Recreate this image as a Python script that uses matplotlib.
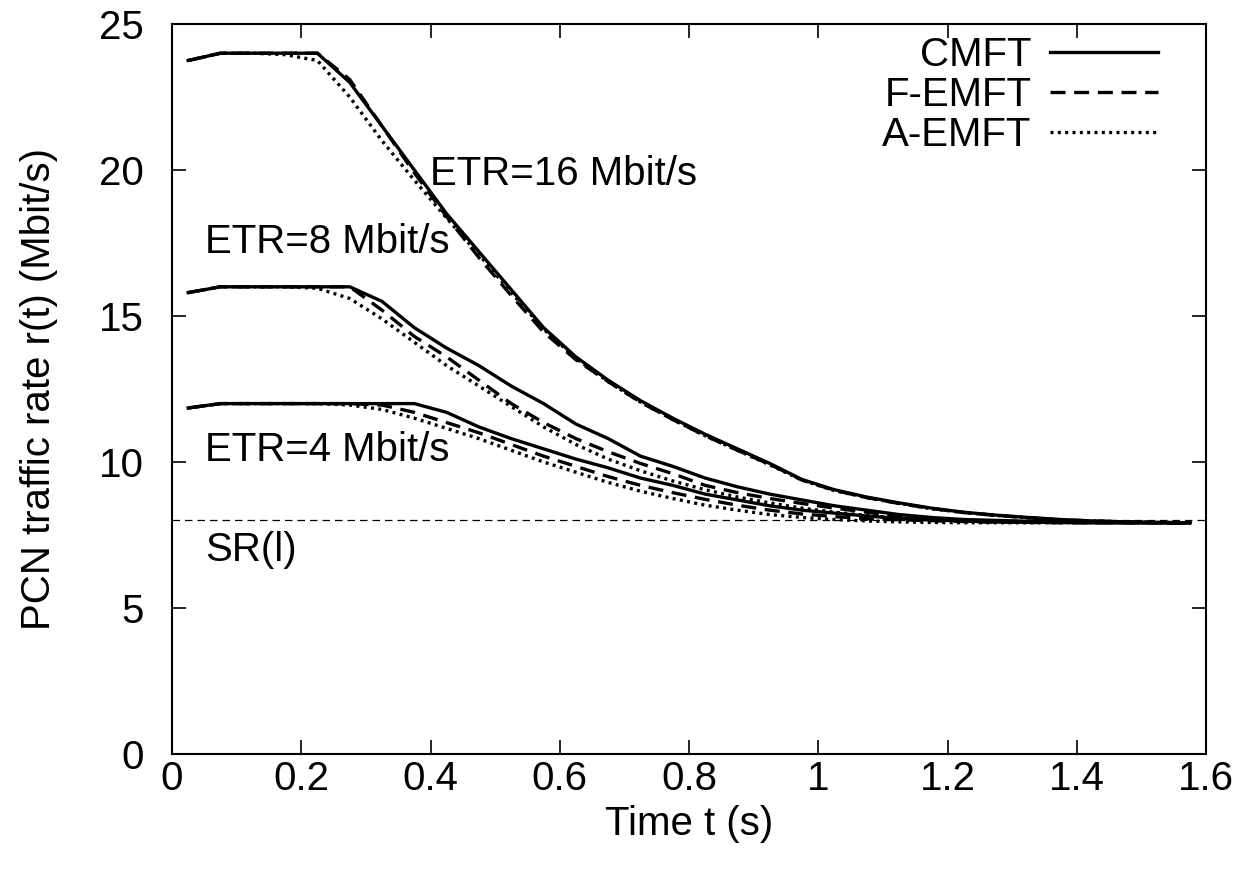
import matplotlib
matplotlib.use("Agg")
import matplotlib.pyplot as plt

plt.rcParams['font.family'] = ['Liberation Sans', 'DejaVu Sans']

t = [0.025, 0.075, 0.125, 0.175, 0.225, 0.275, 0.325, 0.375, 0.425, 0.475,
     0.525, 0.575, 0.625, 0.675, 0.725, 0.775, 0.825, 0.875, 0.925, 0.975,
     1.025, 1.075, 1.125, 1.175, 1.225, 1.275, 1.325, 1.375, 1.425, 1.475,
     1.525, 1.575]

# ETR = 16 Mbit/s
cmft_16 = [23.75, 24.0, 24.0, 24.0, 24.0, 23.0, 21.5, 20.0, 18.5, 17.2,
           15.9, 14.6, 13.6, 12.8, 12.1, 11.5, 10.95, 10.45, 9.95, 9.4,
           9.05, 8.8, 8.6, 8.42, 8.28, 8.18, 8.1, 8.03, 7.98, 7.95,
           7.93, 7.92]
femft_16 = [23.75, 24.0, 24.0, 24.0, 24.0, 23.1, 21.5, 19.9, 18.4, 17.0,
            15.7, 14.45, 13.5, 12.75, 12.05, 11.45, 10.9, 10.4, 9.92, 9.38,
            9.03, 8.78, 8.58, 8.41, 8.27, 8.17, 8.09, 8.02, 7.98, 7.95,
            7.93, 7.92]
aemft_16 = [23.75, 24.0, 24.0, 23.95, 23.75, 22.5, 21.0, 19.65, 18.35, 17.1,
            15.8, 14.55, 13.55, 12.75, 12.05, 11.45, 10.9, 10.4, 9.9, 9.38,
            9.02, 8.78, 8.58, 8.4, 8.27, 8.17, 8.09, 8.02, 7.98, 7.95,
            7.93, 7.92]

# ETR = 8 Mbit/s
cmft_8 = [15.8, 16.0, 16.0, 16.0, 16.0, 16.0, 15.5, 14.6, 13.9, 13.3,
          12.6, 12.0, 11.3, 10.8, 10.2, 9.85, 9.45, 9.15, 8.9, 8.7,
          8.5, 8.35, 8.2, 8.1, 8.03, 8.0, 7.97, 7.95, 7.94, 7.93,
          7.92, 7.92]
femft_8 = [15.8, 16.0, 16.0, 16.0, 16.0, 16.0, 15.2, 14.3, 13.6, 12.8,
           12.0, 11.35, 10.8, 10.35, 9.95, 9.6, 9.2, 8.95, 8.75, 8.58,
           8.42, 8.28, 8.15, 8.07, 8.0, 7.97, 7.95, 7.94, 7.93, 7.92,
           7.92, 7.92]
aemft_8 = [15.8, 16.0, 16.0, 16.0, 15.95, 15.6, 14.9, 14.1, 13.3, 12.6,
           11.9, 11.2, 10.6, 10.1, 9.7, 9.35, 9.05, 8.8, 8.6, 8.42,
           8.28, 8.17, 8.08, 8.02, 7.98, 7.95, 7.94, 7.93, 7.92, 7.92,
           7.92, 7.92]

# ETR = 4 Mbit/s
cmft_4 = [11.85, 12.0, 12.0, 12.0, 12.0, 12.0, 12.0, 12.0, 11.7, 11.2,
          10.8, 10.45, 10.1, 9.8, 9.45, 9.2, 8.9, 8.7, 8.5, 8.35,
          8.25, 8.15, 8.07, 8.02, 7.98, 7.95, 7.94, 7.93, 7.92, 7.92,
          7.92, 7.92]
femft_4 = [11.85, 12.0, 12.0, 12.0, 12.0, 12.0, 11.95, 11.7, 11.35, 11.0,
           10.6, 10.2, 9.85, 9.5, 9.2, 8.95, 8.72, 8.52, 8.35, 8.22,
           8.13, 8.06, 8.02, 7.99, 7.96, 7.94, 7.93, 7.92, 7.92, 7.92,
           7.92, 7.92]
aemft_4 = [11.85, 12.0, 12.0, 12.0, 12.0, 11.95, 11.8, 11.5, 11.15, 10.8,
           10.4, 10.0, 9.65, 9.3, 9.0, 8.75, 8.52, 8.35, 8.2, 8.1,
           8.03, 7.98, 7.95, 7.93, 7.92, 7.92, 7.92, 7.92, 7.92, 7.92,
           7.92, 7.92]

sr_level = 8.0
series_labels = ["CMFT", "F-EMFT", "A-EMFT"]
x_ticks = [0, 0.2, 0.4, 0.6, 0.8, 1, 1.2, 1.4, 1.6]
x_tick_labels = ["0", "0.2", "0.4", "0.6", "0.8", "1", "1.2", "1.4", "1.6"]
y_ticks = [0, 5, 10, 15, 20, 25]

fig = plt.figure(figsize=(12.43, 8.72), dpi=100)
ax = fig.add_axes([172 / 1243, 1 - 754 / 872, (1206 - 172) / 1243, (754 - 24) / 872])

lw = 2.4
sty_solid = dict(color='black', lw=lw, linestyle='-', solid_joinstyle='miter')
sty_dash = dict(color='black', lw=lw, linestyle=(0, (4.5, 2.6)))
sty_dot = dict(color='black', lw=lw, linestyle=(0, (0.9, 1.3)))

ax.axhline(sr_level, color='black', lw=0.9, linestyle=(0, (6, 4)))

h1, = ax.plot(t, cmft_16, **sty_solid)
h2, = ax.plot(t, femft_16, **sty_dash)
h3, = ax.plot(t, aemft_16, **sty_dot)
ax.plot(t, cmft_8, **sty_solid)
ax.plot(t, femft_8, **sty_dash)
ax.plot(t, aemft_8, **sty_dot)
ax.plot(t, cmft_4, **sty_solid)
ax.plot(t, femft_4, **sty_dash)
ax.plot(t, aemft_4, **sty_dot)

fs = 29
ax.text(0.399, 19.85, "ETR=16 Mbit/s", fontsize=fs, va='center', ha='left')
ax.text(0.051, 17.55, "ETR=8 Mbit/s", fontsize=fs, va='center', ha='left')
ax.text(0.051, 10.4, "ETR=4 Mbit/s", fontsize=fs, va='center', ha='left')
ax.text(0.051, 7.0, "SR(l)", fontsize=fs, va='center', ha='left')

ax.set_xlim(0, 1.6)
ax.set_ylim(0, 25)
ax.set_xticks(x_ticks)
ax.set_xticklabels(x_tick_labels)
ax.set_yticks(y_ticks)
ax.tick_params(direction='in', length=10, width=1.2, top=True, right=True,
               labelsize=fs)
ax.tick_params(axis='x', pad=4)
ax.tick_params(axis='y', pad=20)
for s in ax.spines.values():
    s.set_linewidth(1.5)

ax.set_xlabel("Time t (s)", fontsize=fs, labelpad=5)
ax.set_ylabel("PCN traffic rate r(t) (Mbit/s)", fontsize=fs, labelpad=30)

leg = ax.legend([h1, h2, h3], series_labels, loc='upper right', frameon=False,
                markerfirst=False, handlelength=2.7, fontsize=fs,
                bbox_to_anchor=(0.954, 0.983), borderpad=0, borderaxespad=0,
                labelspacing=0.05, handletextpad=0.45)
for txt in leg.get_texts():
    txt.set_ha('right')

fig.savefig("out.png", dpi=100)
